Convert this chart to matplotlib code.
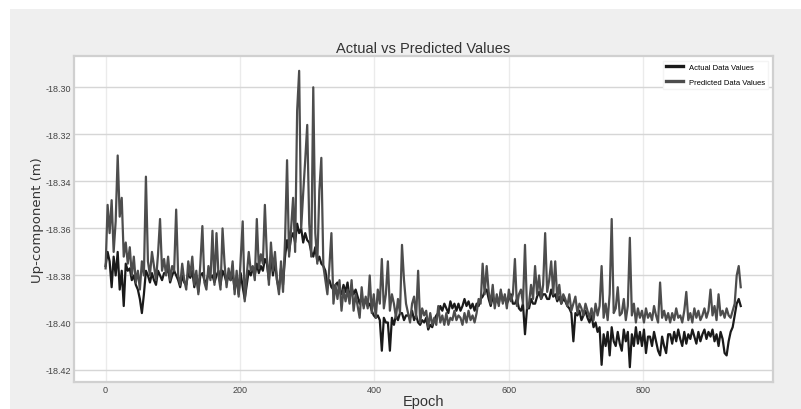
import numpy as np
import matplotlib.pyplot as plt
from matplotlib.patches import Rectangle

# Up-component, one sample every 3 epochs,
# given in millimetres below -18.30 m
actual_mm = [
    76, 70, 74, 85, 72, 80, 70, 86, 78, 93,
    75, 78, 77, 82, 80, 84, 86, 90, 96, 88,
    78, 80, 83, 79, 82, 84, 78, 80, 82, 79,
    79, 77, 83, 80, 78, 80, 82, 85, 80, 83,
    84, 79, 81, 78, 85, 80, 87, 80, 79, 82,
    83, 79, 81, 80, 83, 80, 78, 84, 78, 80,
    83, 80, 82, 79, 86, 81, 88, 79, 85, 90,
    84, 78, 80, 77, 80, 75, 79, 76, 78, 73,
    75, 82, 72, 80, 74, 82, 86, 77, 84, 72,
    65, 70, 64, 62, 66, 58, 62, 60, 66, 62,
    65, 66, 70, 72, 68, 74, 72, 75, 76, 78,
    84, 82, 85, 86, 84, 83, 86, 88, 84, 87,
    83, 90, 85, 88, 86, 89, 92, 89, 93, 90,
    93, 92, 95, 97, 98, 97, 99, 112, 98, 100,
    100, 112, 98, 101, 97, 99, 96, 96, 99, 97,
    97, 98, 95, 99, 97, 100, 101, 99, 100, 98,
    103, 101, 102, 99, 97, 96, 93, 95, 92, 94,
    96, 91, 94, 92, 95, 92, 95, 93, 90, 93,
    91, 94, 92, 95, 92, 93, 90, 89, 87, 86,
    90, 93, 89, 92, 90, 92, 87, 91, 89, 92,
    90, 88, 92, 92, 90, 94, 95, 92, 105, 94,
    94, 90, 92, 92, 89, 87, 90, 88, 88, 90,
    90, 86, 89, 88, 91, 89, 92, 90, 91, 93,
    94, 96, 108, 96, 97, 95, 99, 97, 95, 98,
    100, 97, 102, 100, 104, 102, 118, 105, 110, 104,
    114, 102, 108, 110, 104, 109, 112, 103, 108, 104,
    119, 105, 110, 102, 109, 104, 110, 103, 113, 106,
    106, 110, 104, 108, 112, 114, 106, 110, 113, 105,
    105, 109, 104, 108, 103, 107, 110, 104, 109, 105,
    107, 103, 106, 109, 104, 108, 105, 103, 107, 104,
    106, 103, 108, 105, 110, 104, 107, 113, 114, 108,
    104, 102, 97, 92, 90, 93,
]
predicted_mm = [
    77, 50, 62, 48, 70, 57, 29, 55, 47, 72,
    66, 75, 68, 80, 72, 83, 78, 86, 74, 80,
    38, 74, 80, 70, 76, 82, 71, 56, 78, 73,
    80, 72, 82, 76, 78, 52, 80, 84, 75, 82,
    86, 74, 80, 72, 84, 78, 88, 75, 59, 83,
    86, 76, 82, 61, 84, 62, 80, 86, 60, 75,
    85, 77, 82, 74, 88, 78, 89, 73, 57, 91,
    80, 70, 78, 76, 82, 56, 77, 71, 75, 50,
    72, 84, 66, 78, 70, 82, 88, 74, 87, 65,
    31, 72, 60, 47, 70, 10, -7, 60, 45, 31,
    16, 58, 72, 0, 62, 75, 44, 30, 76, 82,
    88, 76, 62, 92, 84, 90, 82, 95, 86, 91,
    86, 92, 82, 95, 88, 93, 98, 85, 94, 89,
    94, 80, 96, 88, 98, 86, 92, 73, 94, 88,
    74, 95, 88, 92, 98, 90, 96, 67, 82, 92,
    96, 100, 92, 89, 98, 78, 100, 94, 97, 95,
    102, 96, 101, 98, 101, 93, 100, 97, 101, 96,
    101, 98, 99, 95, 99, 97, 98, 101, 96, 100,
    95, 99, 97, 100, 96, 90, 92, 75, 88, 76,
    87, 92, 84, 94, 88, 93, 86, 92, 88, 94,
    86, 91, 88, 73, 93, 88, 86, 92, 67, 94,
    92, 84, 90, 76, 88, 80, 90, 84, 62, 87,
    82, 74, 88, 74, 90, 84, 92, 88, 90, 93,
    88, 95, 92, 89, 96, 92, 94, 97, 92, 95,
    98, 94, 99, 92, 97, 93, 76, 98, 92, 99,
    88, 56, 96, 94, 85, 97, 96, 90, 99, 93,
    64, 97, 92, 100, 94, 98, 95, 100, 94, 98,
    96, 99, 93, 97, 100, 83, 98, 95, 99, 96,
    100, 96, 99, 94, 98, 97, 100, 95, 87, 99,
    96, 100, 94, 98, 95, 99, 97, 94, 98, 95,
    86, 97, 93, 99, 88, 97, 95, 98, 94, 97,
    98, 95, 92, 80, 76, 85,
]
BASE = -18.30
actual = BASE - np.array(actual_mm) / 1000
predicted = BASE - np.array(predicted_mm) / 1000
epochs = np.arange(len(actual)) * 3

font = 'Liberation Sans'

fig = plt.figure(figsize=(8.01, 4.10), dpi=100, facecolor='white')
fig.add_artist(Rectangle((10 / 801, 0), 1, 400 / 410, transform=fig.transFigure,
                         facecolor='#efefef', edgecolor='none', zorder=-10))
ax = fig.add_axes([74 / 801, 27 / 410, 699 / 801, 326 / 410])
ax.set_facecolor('white')

ax.plot(epochs, actual, color='#1a1a1a', lw=1.6, label='Actual Data Values')
ax.plot(epochs, predicted, color='#4d4d4d', lw=1.6, label='Predicted Data Values')

ax.set_xlim(-47, 993)
ax.set_ylim(-18.4253, -18.2867)
ax.set_xticks([0, 200, 400, 600, 800])
ax.set_yticks([-18.30, -18.32, -18.34, -18.36, -18.38, -18.40, -18.42])
ax.yaxis.set_major_formatter(plt.FormatStrFormatter('%.2f'))

ax.grid(axis='y', color='#d6d6d6', lw=1.0)
ax.grid(axis='x', color='#ebebeb', lw=1.0)
ax.set_axisbelow(True)
for s in ax.spines.values():
    s.set_color('#d0d0d0')
    s.set_linewidth(1.6)
ax.tick_params(length=0, pad=2, labelsize=6.5, labelcolor='#444444')
for lbl in ax.get_xticklabels() + ax.get_yticklabels():
    lbl.set_family(font)

ax.set_title('Actual vs Predicted Values', family=font, fontsize=10.5, color='#333333', pad=3)
ax.set_xlabel('Epoch', family=font, fontsize=10.5, color='#333333', labelpad=0)
ax.set_ylabel('Up-component (m)', fontsize=9.5, color='#333333', labelpad=1)

leg = ax.legend(loc='upper right', prop={'family': font, 'size': 5.5}, frameon=True,
                fancybox=False, borderaxespad=0.6, handlelength=2.2, labelspacing=1.0)
leg.get_frame().set_edgecolor('#f4f4f4')
leg.get_frame().set_alpha(1)
for h in leg.get_lines():
    h.set_linewidth(2.4)

fig.savefig('out.png', dpi=100, facecolor=fig.get_facecolor())
